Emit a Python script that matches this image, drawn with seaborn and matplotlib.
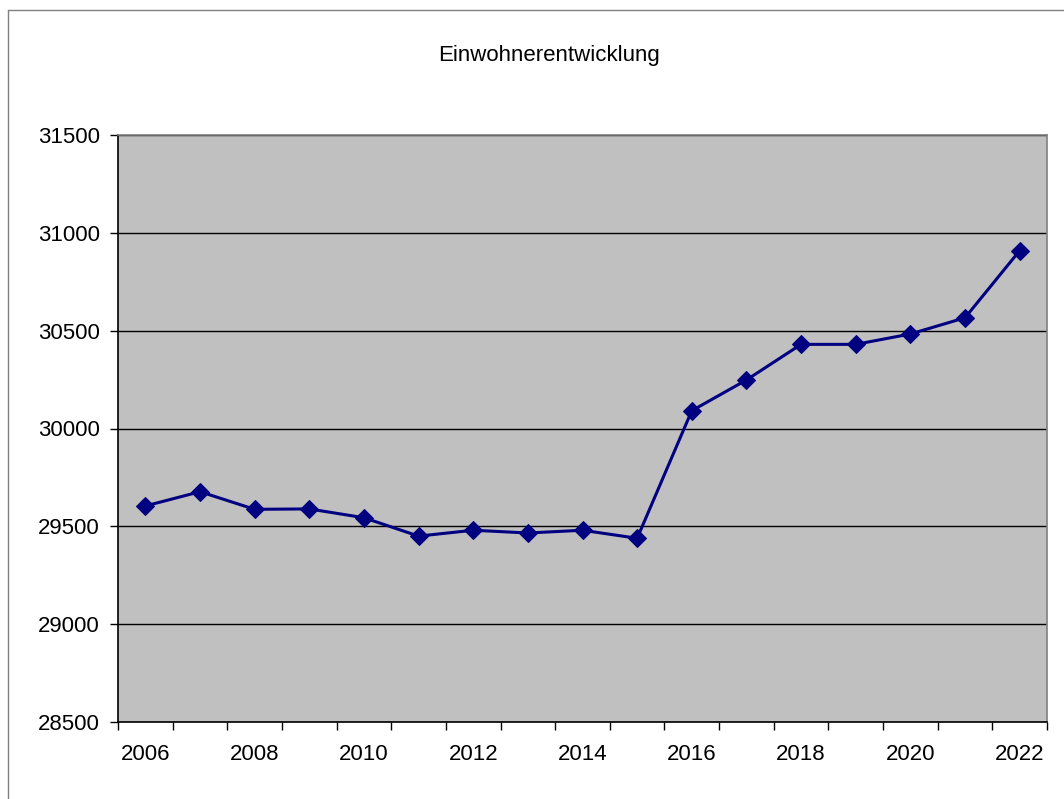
import matplotlib
matplotlib.use("Agg")
import matplotlib.pyplot as plt
import seaborn as sns
import pandas as pd
from matplotlib.lines import Line2D
from matplotlib.ticker import FixedLocator

# data
years = [2006, 2007, 2008, 2009, 2010, 2011, 2012, 2013, 2014, 2015,
         2016, 2017, 2018, 2019, 2020, 2021, 2022]
einwohner = [29604, 29677, 29587, 29589, 29544, 29450, 29480, 29466, 29480, 29439,
             30091, 30248, 30430, 30430, 30483, 30566, 30909]
y_ticks = [28500, 29000, 29500, 30000, 30500, 31000, 31500]
x_labels = [2006, 2008, 2010, 2012, 2014, 2016, 2018, 2020, 2022]
title = "Einwohnerentwicklung"

df = pd.DataFrame({"Jahr": years, "Einwohner": einwohner})

sns.set_style("white")
plt.rcParams["font.family"] = ["Liberation Sans", "DejaVu Sans"]
plt.rcParams["text.color"] = "black"
plt.rcParams["xtick.color"] = "black"
plt.rcParams["ytick.color"] = "black"

fig = plt.figure(figsize=(10.64, 7.99), dpi=100)
ax = fig.add_axes([118 / 1064, 1 - 722 / 799, (1047 - 118) / 1064, (722 - 135) / 799])
ax.set_facecolor("#C0C0C0")

sns.lineplot(data=df, x="Jahr", y="Einwohner", ax=ax, color="#000080",
             linewidth=2.2, marker="D", markersize=9, markeredgecolor="#000080")

ax.set_ylim(28500, 31500)
ax.set_xlim(years[0] - 0.5, years[-1] + 0.5)
ax.set_yticks(y_ticks)
ax.set_yticklabels([str(v) for v in y_ticks], fontsize=16)
ax.yaxis.grid(True, color="black", linewidth=1)
ax.set_axisbelow(True)

# tick marks between categories, labels on every second year
ax.xaxis.set_major_locator(FixedLocator([y - 0.5 for y in years] + [years[-1] + 0.5]))
ax.set_xticklabels([])
ax.xaxis.set_minor_locator(FixedLocator(x_labels))
ax.set_xticklabels([str(y) for y in x_labels], minor=True, fontsize=16)
ax.tick_params(axis="x", which="major", direction="out", length=6, width=1,
               color="black", bottom=True)
ax.tick_params(axis="x", which="minor", length=0, pad=16)
ax.tick_params(axis="y", direction="out", length=6, width=1, color="black",
               left=True, pad=7)

ax.set_xlabel("")
ax.set_ylabel("")
for side in ["left", "bottom"]:
    ax.spines[side].set_color("black")
    ax.spines[side].set_linewidth(1.2)
for side in ["top", "right"]:
    ax.spines[side].set_color("#808080")
    ax.spines[side].set_linewidth(1.2)

fig.text(549 / 1064, 1 - 55 / 799, title, ha="center", va="center", fontsize=16)

# chart area frame (left and top edges visible)
fig.add_artist(Line2D([8 / 1064, 8 / 1064], [0, 1 - 10 / 799], color="#808080",
                      linewidth=1, transform=fig.transFigure))
fig.add_artist(Line2D([8 / 1064, 1], [1 - 10 / 799, 1 - 10 / 799], color="#808080",
                      linewidth=1, transform=fig.transFigure))

fig.savefig("out.png", dpi=100, facecolor="white")
